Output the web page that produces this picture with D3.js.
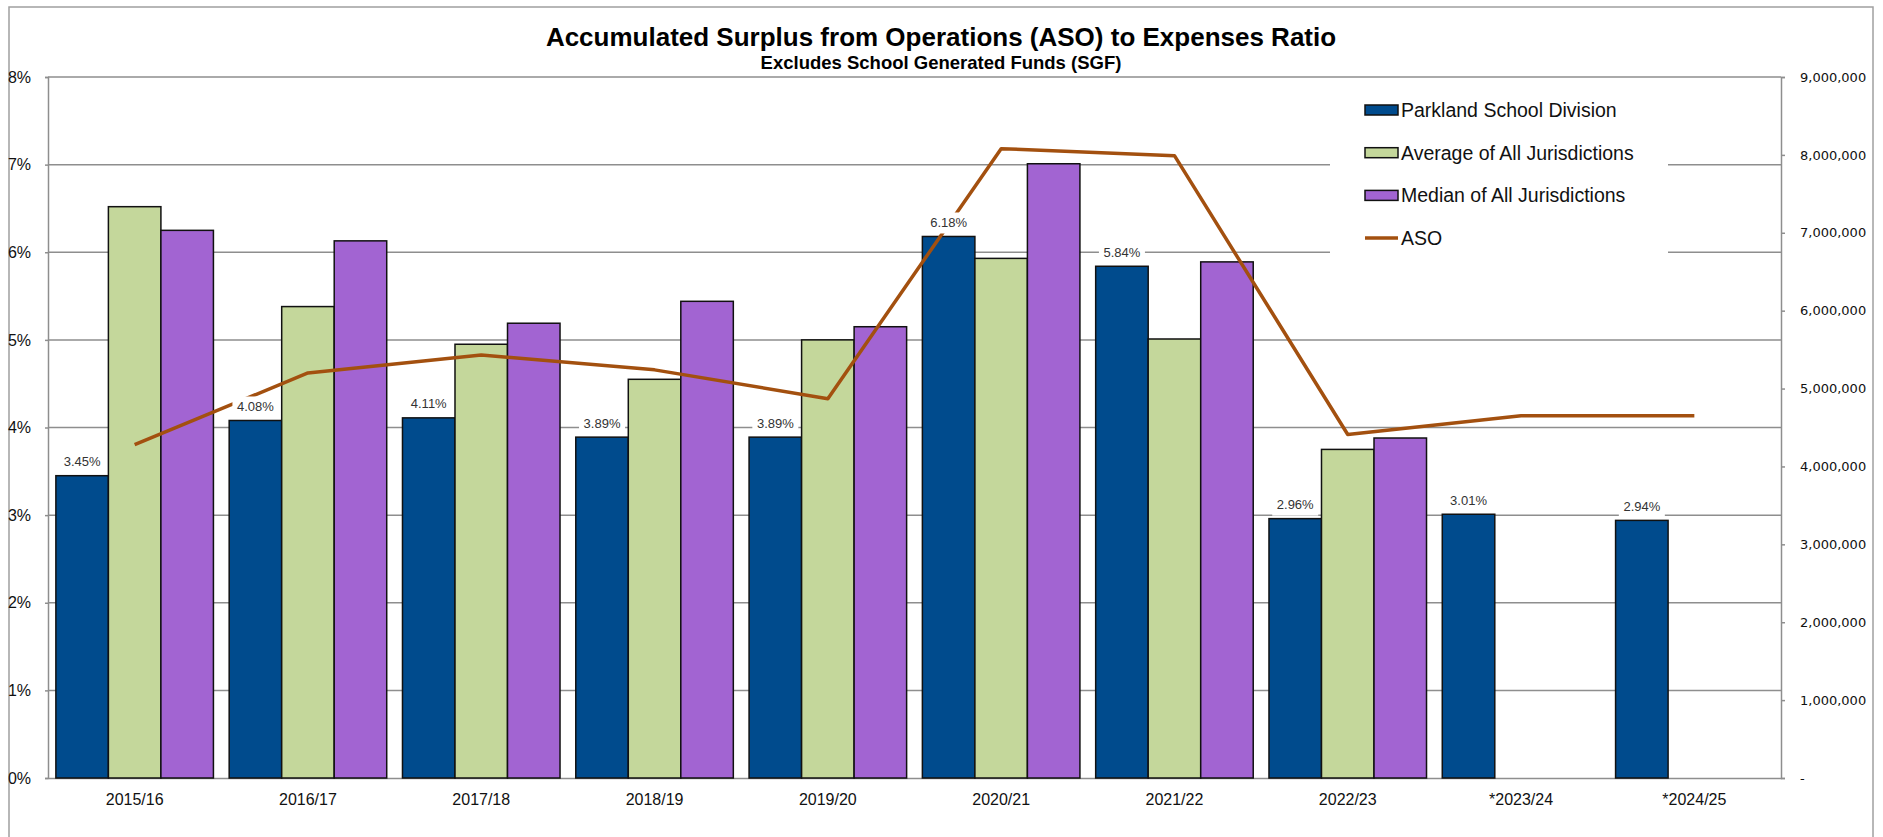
<!DOCTYPE html>
<html>
<head>
<meta charset="utf-8">
<script src="https://cdn.jsdelivr.net/npm/d3@7"></script>
<style>
  body { margin: 0; background: #fff; }
  text { font-family: "Liberation Sans", Arial, sans-serif; }
</style>
</head>
<body>
<div id="my_dataviz"></div>
<script>
// chart values
var years = ["2015/16", "2016/17", "2017/18", "2018/19", "2019/20", "2020/21", "2021/22", "2022/23", "*2023/24", "*2024/25"];
var seriesNames = ["Parkland School Division", "Average of All Jurisdictions", "Median of All Jurisdictions"];
var parkland = [3.45, 4.08, 4.11, 3.89, 3.89, 6.18, 5.84, 2.96, 3.01, 2.94];
var average = [6.52, 5.38, 4.95, 4.55, 5.00, 5.93, 5.01, 3.75, null, null];
var median = [6.25, 6.13, 5.19, 5.44, 5.15, 7.01, 5.89, 3.88, null, null];
var aso = [4280000, 5200000, 5430000, 5240000, 4870000, 8080000, 7990000, 4410000, 4650000, 4650000];
var leftTicks = [0, 1, 2, 3, 4, 5, 6, 7, 8];
var rightTicks = [0, 1000000, 2000000, 3000000, 4000000, 5000000, 6000000, 7000000, 8000000, 9000000];

var colors = ["#004b8d", "#c4d79b", "#a264d2"];
var asoColor = "#a3500f";
var gridColor = "#8e8e8e";

var W = 1883, H = 837;
// plot area (note: "top" is taken by window.top, so use other names)
var pLeft = 48, pRight = 1781, pTop = 77, pBottom = 778;

var svg = d3.select("#my_dataviz")
  .append("svg")
    .attr("width", W)
    .attr("height", H);

// outer frame
svg.append("rect")
  .attr("x", 9).attr("y", 7)
  .attr("width", 1864).attr("height", 900)
  .attr("fill", "none")
  .attr("stroke", "#a0a0a0")
  .attr("stroke-width", 1.5);

// titles
svg.append("text")
  .attr("x", 941).attr("y", 46)
  .attr("text-anchor", "middle")
  .style("font-size", "26px").style("font-weight", "bold")
  .text("Accumulated  Surplus from Operations (ASO) to Expenses Ratio");
svg.append("text")
  .attr("x", 941).attr("y", 69)
  .attr("text-anchor", "middle")
  .style("font-size", "18.5px").style("font-weight", "bold")
  .text("Excludes School Generated Funds (SGF)");

// scales
var x0 = d3.scaleBand().domain(years).range([pLeft, pRight]).padding(0);
var x1 = d3.scaleBand().domain(seriesNames).range([0, x0.bandwidth()])
  .paddingInner(0).paddingOuter(0.15);
var yLeft = d3.scaleLinear().domain([0, 8]).range([pBottom, pTop]);
var yRight = d3.scaleLinear().domain([0, 9000000]).range([pBottom, pTop]);

// gridlines
svg.append("g")
  .selectAll("line")
  .data(leftTicks.slice(1))
  .enter()
  .append("line")
    .attr("x1", pLeft).attr("x2", pRight)
    .attr("y1", function(d) { return yLeft(d); })
    .attr("y2", function(d) { return yLeft(d); })
    .attr("stroke", gridColor)
    .attr("stroke-width", 1.5);

// left axis
var axL = svg.append("g")
  .attr("transform", "translate(" + pLeft + ",0)")
  .call(d3.axisLeft(yLeft).tickValues(leftTicks).tickSize(3).tickPadding(14)
    .tickFormat(function(d) { return d + "%"; }));
axL.select(".domain").attr("stroke", gridColor).attr("stroke-width", 1.5);
axL.selectAll(".tick line").attr("stroke", gridColor).attr("stroke-width", 1.5);
axL.selectAll("text")
  .attr("fill", "#111")
  .style("font-size", "16px")
  .style("font-family", "'Liberation Sans', Arial, sans-serif");

// right axis
var axR = svg.append("g")
  .attr("transform", "translate(" + pRight + ",0)")
  .call(d3.axisRight(yRight).tickValues(rightTicks).tickSize(4).tickPadding(15)
    .tickFormat(function(d) { return d === 0 ? "-" : d3.format(",")(d); }));
axR.select(".domain").attr("stroke", gridColor).attr("stroke-width", 1.5);
axR.selectAll(".tick line").attr("stroke", gridColor).attr("stroke-width", 1.5);
axR.selectAll("text")
  .attr("fill", "#111")
  .style("font-size", "13px")
  .style("font-family", "'DejaVu Sans', Verdana, sans-serif");

// bottom axis
var axB = svg.append("g")
  .attr("transform", "translate(0," + pBottom + ")")
  .call(d3.axisBottom(x0).tickSize(0).tickPadding(16));
axB.select(".domain").attr("stroke", gridColor).attr("stroke-width", 1.5);
axB.selectAll("text")
  .attr("fill", "#111")
  .style("font-size", "16px")
  .style("font-family", "'Liberation Sans', Arial, sans-serif");

// bars
var rows = years.map(function(y, i) {
  return { year: y, values: [parkland[i], average[i], median[i]] };
});
var groups = svg.append("g")
  .selectAll("g")
  .data(rows)
  .enter()
  .append("g")
    .attr("transform", function(d) { return "translate(" + x0(d.year) + ",0)"; });
groups.selectAll("rect")
  .data(function(d) {
    return d.values.map(function(v, j) { return { name: seriesNames[j], value: v, idx: j }; })
      .filter(function(e) { return e.value != null; });
  })
  .enter()
  .append("rect")
    .attr("x", function(d) { return x1(d.name); })
    .attr("width", x1.bandwidth())
    .attr("y", function(d) { return yLeft(d.value); })
    .attr("height", function(d) { return pBottom - yLeft(d.value); })
    .attr("fill", function(d) { return colors[d.idx]; })
    .attr("stroke", "#111")
    .attr("stroke-width", 1.5);

// ASO line on the right axis
var line = d3.line()
  .x(function(d, i) { return x0(years[i]) + x0.bandwidth() / 2; })
  .y(function(d) { return yRight(d); });
svg.append("path")
  .datum(aso)
  .attr("d", line)
  .attr("fill", "none")
  .attr("stroke", asoColor)
  .attr("stroke-width", 3.5)
  .attr("stroke-linejoin", "round");

// data labels for Parkland bars (white box behind)
var labels = svg.append("g")
  .selectAll("g")
  .data(parkland)
  .enter()
  .append("g")
    .attr("transform", function(d, i) {
      return "translate(" + (x0(years[i]) + x1(seriesNames[0]) + x1.bandwidth() / 2) + "," + (yLeft(d) - 14) + ")";
    });
labels.append("rect")
  .attr("x", -23).attr("y", -10)
  .attr("width", 46).attr("height", 21)
  .attr("fill", "#fff");
labels.append("text")
  .attr("text-anchor", "middle")
  .attr("dy", "0.35em")
  .attr("fill", "#333")
  .style("font-size", "13px")
  .text(function(d) { return d.toFixed(2) + "%"; });

// legend
var legend = svg.append("g");
legend.append("rect")
  .attr("x", 1330).attr("y", 84)
  .attr("width", 338).attr("height", 190)
  .attr("fill", "#fff");
var legItems = seriesNames.concat(["ASO"]);
var leg = legend.selectAll("g")
  .data(legItems)
  .enter()
  .append("g")
    .attr("transform", function(d, i) { return "translate(1365," + (110 + i * 42.7) + ")"; });
leg.filter(function(d, i) { return i < 3; })
  .append("rect")
    .attr("x", 0).attr("y", -5)
    .attr("width", 33).attr("height", 10)
    .attr("fill", function(d, i) { return colors[i]; })
    .attr("stroke", "#111")
    .attr("stroke-width", 1.5);
leg.filter(function(d, i) { return i === 3; })
  .append("line")
    .attr("x1", 0).attr("x2", 33)
    .attr("stroke", asoColor)
    .attr("stroke-width", 3.5);
leg.append("text")
  .attr("x", 36)
  .attr("dy", "0.35em")
  .attr("fill", "#111")
  .style("font-size", "19.5px")
  .text(function(d) { return d; });
</script>
</body>
</html>
